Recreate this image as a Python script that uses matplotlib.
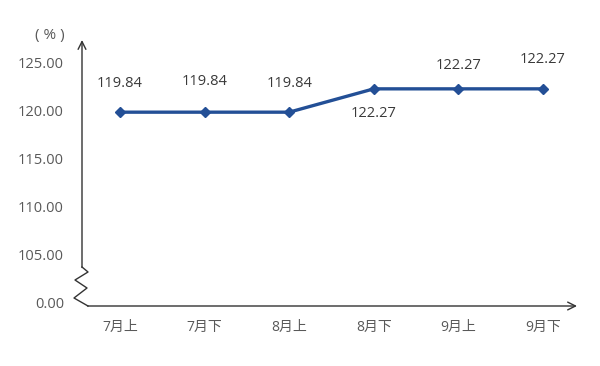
import matplotlib.pyplot as plt
from matplotlib.lines import Line2D

plt.rcParams['font.family'] = ['Open Sans', 'Noto Sans CJK SC', 'DejaVu Sans']

# data
periods = ['7月上', '7月下', '8月上', '8月下', '9月上', '9月下']
values = [119.84, 119.84, 119.84, 122.27, 122.27, 122.27]
# label offsets (points) above (+) / below (-) each marker
label_dy = [21, 22, 21, -18, 17, 21]
yticks = [100, 105, 110, 115, 120, 125]
ytick_labels = ['0.00', '105.00', '110.00', '115.00', '120.00', '125.00']

W, H = 600, 366
fig = plt.figure(figsize=(6, 3.66), dpi=100)
ax = fig.add_axes([82 / W, 60 / H, (575 - 82) / W, (306 - 42) / H])

line_color = '#234f96'
text_color = '#595959'

x = list(range(len(periods)))
ax.plot(x, values, color=line_color, lw=2.4, marker='D', ms=5.5, zorder=3)
for xi, v, dy in zip(x, values, label_dy):
    ax.annotate(f'{v:.2f}', (xi, v), xytext=(0, dy), textcoords='offset points',
                ha='center', va='center', fontsize=10.5, color='#3a3a3a')

ax.set_xlim(-0.45, 5.38)
ax.set_ylim(99.65, 127.15)
ax.set_xticks(x)
ax.set_xticklabels(periods, fontsize=10, color=text_color)
ax.set_yticks(yticks)
ax.set_yticklabels(ytick_labels, fontsize=10.5, color=text_color)
ax.tick_params(length=0, pad=10)
ax.tick_params(axis='y', pad=13)
for s in ax.spines.values():
    s.set_visible(False)

# axes drawn by hand: y axis with arrow, zigzag break, x axis with arrow
def px(xp, yp):
    return (xp / W, 1 - yp / H)

tf = fig.transFigure
zig = [(82, 267), (88, 272), (75, 280), (87, 288), (74, 298), (88, 306)]
fig.add_artist(Line2D([px(*p)[0] for p in zig], [px(*p)[1] for p in zig],
                      transform=tf, color='#333333', lw=1.0))
ax.annotate('', xy=px(82, 40), xytext=px(82, 267.5), xycoords=tf, textcoords=tf,
            arrowprops=dict(arrowstyle='->', color='#333333', lw=1.0,
                            shrinkA=0, shrinkB=0, mutation_scale=14))
ax.annotate('', xy=px(577, 306), xytext=px(87.5, 306), xycoords=tf, textcoords=tf,
            arrowprops=dict(arrowstyle='->', color='#333333', lw=1.0,
                            shrinkA=0, shrinkB=0, mutation_scale=14))

fig.text(50 / W, 1 - 36 / H, '( % )', ha='center', va='center',
         fontsize=11, color=text_color)

fig.savefig('out.png', dpi=100, facecolor='white')
